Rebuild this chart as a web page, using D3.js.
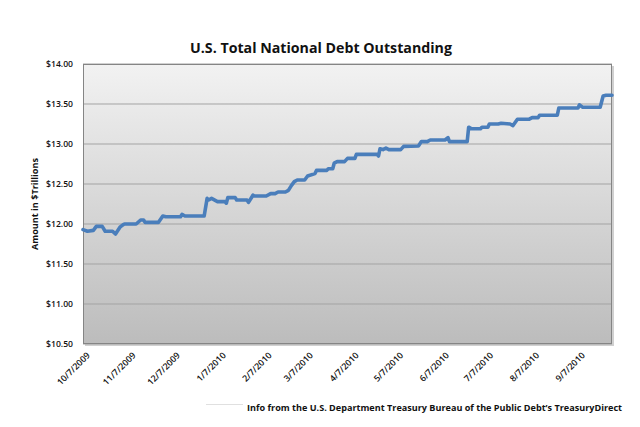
<!DOCTYPE html>
<html>
<head>
<meta charset="utf-8">
<script src="https://cdn.jsdelivr.net/npm/d3@7"></script>
<style>
  html, body { margin: 0; padding: 0; background: #fff; }
  svg { display: block; }
  text { font-family: "Open Sans", "Liberation Sans", sans-serif; fill: #111; }
</style>
</head>
<body>
<svg id="chart" width="640" height="427"></svg>
<script>
// ---- data ----
const dates = [
  "2009-10-07","2009-10-10","2009-10-14","2009-10-16","2009-10-20","2009-10-22","2009-10-27","2009-10-29",
  "2009-11-01","2009-11-03","2009-11-04","2009-11-12","2009-11-15","2009-11-17","2009-11-18","2009-11-27",
  "2009-11-30","2009-12-02","2009-12-12","2009-12-13","2009-12-15","2009-12-28","2009-12-30","2009-12-31",
  "2010-01-02","2010-01-06","2010-01-11","2010-01-12","2010-01-13","2010-01-18","2010-01-19","2010-01-26",
  "2010-01-27","2010-01-30","2010-01-31","2010-02-08","2010-02-11","2010-02-14","2010-02-16","2010-02-21",
  "2010-02-23","2010-02-25","2010-02-27","2010-03-01","2010-03-06","2010-03-08","2010-03-13","2010-03-14",
  "2010-03-21","2010-03-22","2010-03-25","2010-03-26","2010-03-28","2010-04-02","2010-04-04","2010-04-09",
  "2010-04-10","2010-04-24","2010-04-25","2010-04-26","2010-04-28","2010-04-30","2010-05-02","2010-05-10",
  "2010-05-12","2010-05-22","2010-05-24","2010-05-28","2010-05-30","2010-06-09","2010-06-11","2010-06-12",
  "2010-06-24","2010-06-25","2010-06-27","2010-07-03","2010-07-04","2010-07-08","2010-07-09","2010-07-15",
  "2010-07-17","2010-07-23","2010-07-25","2010-07-28","2010-08-05","2010-08-07","2010-08-11","2010-08-12",
  "2010-08-24","2010-08-25","2010-09-07","2010-09-08","2010-09-10","2010-09-22","2010-09-24","2010-09-26",
  "2010-09-30"
];
const debtTrillions = [
  11.93,11.91,11.92,11.97,11.97,11.91,11.91,11.875,
  11.96,11.99,12.00,12.00,12.05,12.05,12.02,12.02,
  12.10,12.09,12.09,12.12,12.10,12.10,12.32,12.30,
  12.32,12.28,12.28,12.26,12.33,12.33,12.30,12.30,
  12.27,12.36,12.35,12.35,12.38,12.38,12.40,12.40,
  12.42,12.48,12.53,12.55,12.55,12.60,12.63,12.67,
  12.67,12.69,12.69,12.76,12.78,12.78,12.82,12.82,
  12.87,12.87,12.85,12.94,12.93,12.95,12.93,12.93,
  12.97,12.975,13.03,13.03,13.05,13.05,13.08,13.03,
  13.03,13.21,13.19,13.19,13.21,13.21,13.25,13.25,
  13.26,13.25,13.23,13.31,13.31,13.33,13.33,13.36,
  13.36,13.45,13.45,13.49,13.46,13.46,13.60,13.61,
  13.61
];
const yTicks = [10.5, 11.0, 11.5, 12.0, 12.5, 13.0, 13.5, 14.0];
const xTickDates = ["2009-10-07","2009-11-07","2009-12-07","2010-01-07","2010-02-07","2010-03-07",
                    "2010-04-07","2010-05-07","2010-06-07","2010-07-07","2010-08-07","2010-09-07"];
const xDomain = ["2009-10-07", "2010-09-30"];
const titleText = "U.S. Total National Debt Outstanding";
const yAxisTitle = "Amount in $Trillions";
const sourceText = "Info from the U.S. Department Treasury Bureau of the Public Debt\u2019s TreasuryDirect";

// ---- drawing ----
const parse = d3.timeParse("%Y-%m-%d");
const fmt = d3.timeFormat("%-m/%-d/%Y");
const svg = d3.select("#chart");
const plot = { left: 83, right: 612, top: 64, bottom: 344 };

const x = d3.scaleTime().domain(xDomain.map(parse)).range([plot.left, plot.right]);
const y = d3.scaleLinear().domain([10.5, 14]).range([plot.bottom, plot.top]);

function fitText(sel, targetWidth) {
  const node = sel.node();
  const w = node.getComputedTextLength();
  const fs = parseFloat(sel.attr("font-size"));
  sel.attr("font-size", (fs * targetWidth / w).toFixed(2));
}

// gradient
const defs = svg.append("defs");
const grad = defs.append("linearGradient").attr("id", "bg").attr("x1", 0).attr("y1", 0).attr("x2", 0).attr("y2", 1);
grad.append("stop").attr("offset", "0%").attr("stop-color", "#f2f2f2");
grad.append("stop").attr("offset", "100%").attr("stop-color", "#bcbcbc");

// shadow
svg.append("rect")
  .attr("x", plot.left + 2).attr("y", plot.top + 2)
  .attr("width", plot.right - plot.left).attr("height", plot.bottom - plot.top)
  .attr("fill", "#d0d0d0");
svg.append("rect")
  .attr("x", plot.left).attr("y", plot.top)
  .attr("width", plot.right - plot.left).attr("height", plot.bottom - plot.top)
  .attr("fill", "url(#bg)");

// gridlines
svg.append("g").selectAll("line").data(yTicks).join("line")
  .attr("x1", plot.left).attr("x2", plot.right)
  .attr("y1", d => y(d)).attr("y2", d => y(d))
  .attr("stroke", "#a3a3a3").attr("stroke-width", 1);

// border
svg.append("rect")
  .attr("x", plot.left + 0.5).attr("y", plot.top + 0.5)
  .attr("width", plot.right - plot.left - 1).attr("height", plot.bottom - plot.top - 1)
  .attr("fill", "none").attr("stroke", "#858585").attr("stroke-width", 1);

// y axis
const yAxis = d3.axisLeft(y).tickValues(yTicks).tickSize(0).tickPadding(10)
  .tickFormat(d => "$" + d3.format(".2f")(d));
const gy = svg.append("g").attr("transform", `translate(${plot.left},0)`).call(yAxis);
gy.select(".domain").remove();
gy.selectAll("text").attr("font-size", 8.6).attr("font-weight", 600)
  .style("font-family", '"Open Sans", "Liberation Sans", sans-serif').attr("fill", "#222");

// x axis
const xAxis = d3.axisBottom(x).tickValues(xTickDates.map(parse)).tickSize(0).tickFormat(fmt);
const gx = svg.append("g").attr("transform", `translate(0,${plot.bottom})`).call(xAxis);
gx.select(".domain").remove();
gx.selectAll("text")
  .attr("font-size", 8.8).attr("font-weight", 600)
  .style("font-family", '"Open Sans", "Liberation Sans", sans-serif').attr("fill", "#222")
  .attr("text-anchor", "end")
  .attr("dy", null).attr("y", 0)
  .attr("transform", "translate(7,12) rotate(-45)");

// line
const pts = dates.map((d, i) => ({ date: parse(d), v: debtTrillions[i] }));
svg.append("path").datum(pts)
  .attr("fill", "none").attr("stroke", "#4a7ebb").attr("stroke-width", 3.6)
  .attr("stroke-linejoin", "round").attr("stroke-linecap", "round")
  .attr("d", d3.line().x(d => x(d.date)).y(d => y(d.v)));

// title
const t = svg.append("text").attr("x", 321).attr("y", 53).attr("text-anchor", "middle")
  .attr("font-size", 18).attr("font-weight", "bold").text(titleText);
fitText(t, 262);

// y axis title
const yt = svg.append("text").attr("transform", "translate(38,204) rotate(-90)").attr("text-anchor", "middle")
  .attr("font-size", 9).attr("font-weight", "bold").text(yAxisTitle);
fitText(yt, 92);

// source
svg.append("line").attr("x1", 206).attr("x2", 243).attr("y1", 404.5).attr("y2", 404.5)
  .attr("stroke", "#e0e0e0").attr("stroke-width", 1);
const s = svg.append("text").attr("x", 622).attr("y", 411).attr("text-anchor", "end")
  .attr("font-size", 11).attr("font-weight", "bold").text(sourceText);
fitText(s, 375);
</script>
</body>
</html>
